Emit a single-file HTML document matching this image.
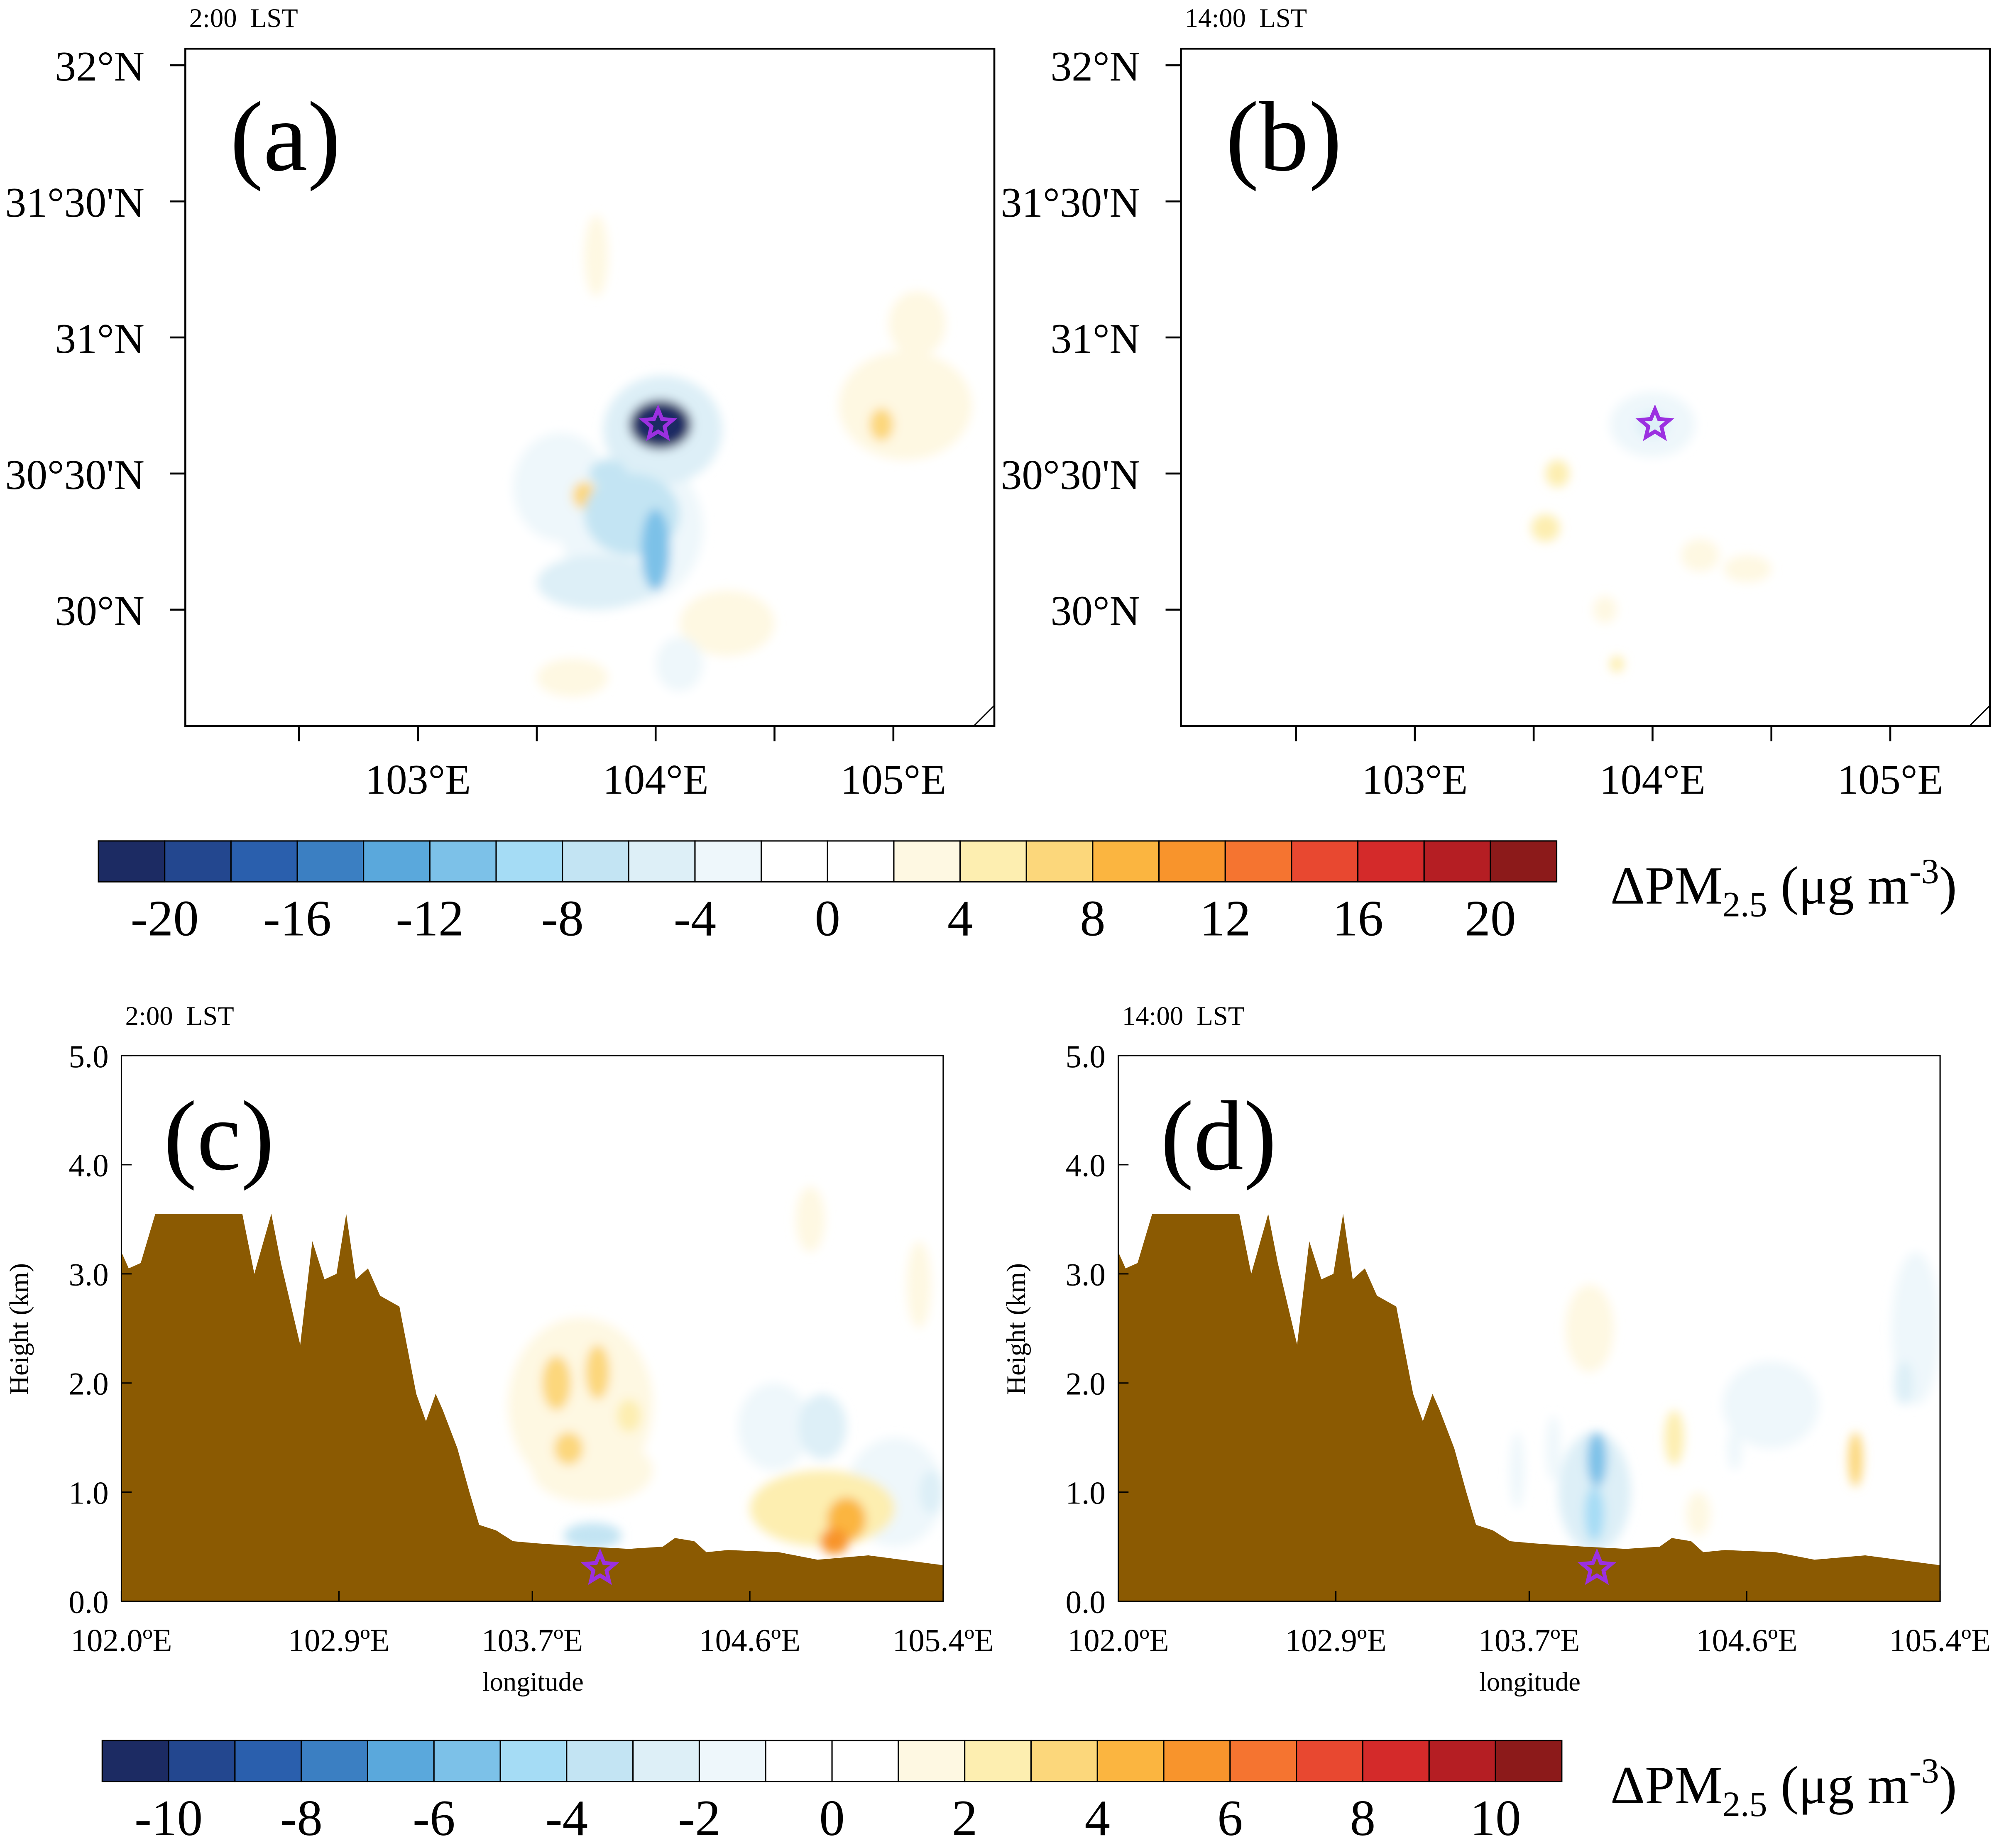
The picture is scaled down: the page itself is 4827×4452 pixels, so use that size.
<!DOCTYPE html>
<html><head><meta charset="utf-8"><style>
html,body{margin:0;padding:0;background:#fff}
svg{display:block}
text{font-family:"Liberation Serif",serif;fill:#000;white-space:pre}
</style></head><body>
<svg id="fig" width="4827" height="4452" viewBox="0 0 1568 1446" xmlns="http://www.w3.org/2000/svg">
<defs>
<filter id="blur" x="-50%" y="-50%" width="200%" height="200%"><feGaussianBlur stdDeviation="4"/></filter>
<clipPath id="clipA"><rect x="145" y="38" width="633" height="530"/></clipPath>
<clipPath id="clipB"><rect x="924" y="38" width="633" height="530"/></clipPath>
<clipPath id="clipC"><rect x="95" y="826" width="643" height="427"/></clipPath>
<clipPath id="clipD"><rect x="875" y="826" width="643" height="427"/></clipPath>
</defs>
<g id="root"></g>
</svg>
<script>
const colors=["#1c2b63","#23478f","#2a5fad","#3b7fc2","#5aa8dc","#7cc1e8","#a5dcf5","#c3e4f3","#ddeff7","#eef7fb","#ffffff","#ffffff","#fef8e2","#fdeeb0","#fcd77b","#fbb540","#f8942c","#f57430","#e84830","#d42a2a","#b51e23","#8c1a1a"];
const cbarTopTicks=[-20,-16,-12,-8,-4,0,4,8,12,16,20];
const cbarBotTicks=[-10,-8,-6,-4,-2,0,2,4,6,8,10];
const latTicks=[32,31.5,31,30.5,30];
const latLabels=["32°N","31°30'N","31°N","30°30'N","30°N"];
const lonTicks=[103,104,105];
const lonMinor=[102.5,103.5,104.5];
const hTicks=[0,1,2,3,4,5];
const secLonTicks=[102.0,102.9,103.7,104.6,105.4];
// blobs: lon, lat, radius-lon(deg), radius-lat(deg), value (ug m-3)
const blobsA_lon=[104.03,104.02,104.0,103.9,103.9,103.75,103.6,103.5,103.8,104.05,103.7,103.65,104.5,105.05,104.95,104.6,103.75,104.3,104.1,103.85,105.2,105.1];
const blobsA_lat=[30.66,30.68,30.22,30.3,30.35,30.1,30.45,30.25,30.5,29.85,30.42,29.75,30.7,30.75,30.68,30.15,31.3,29.95,29.8,30.35,30.3,31.05];
const blobsA_rx=[0.25,0.13,0.06,0.3,0.2,0.25,0.2,0.2,0.08,0.18,0.05,0.15,0.1,0.28,0.05,0.25,0.05,0.2,0.1,0.04,0.2,0.12];
const blobsA_ry=[0.2,0.09,0.15,0.28,0.15,0.1,0.2,0.15,0.05,0.22,0.05,0.07,0.1,0.2,0.06,0.07,0.15,0.12,0.1,0.05,0.12,0.12];
const blobsA_v=[-6,-22,-12,-3,-7,-5,-3,-2,-8,-2,6,3,-2,3,7,-2,2,2,-3,5,-1.5,3];
const blobsB_lon=[104.0,104.0,103.6,103.55,103.95,104.2,103.8,104.4,103.3,104.8,104.6,103.85];
const blobsB_lat=[30.68,30.68,30.5,30.3,30.55,30.2,30.0,30.15,30.45,29.9,29.8,29.8];
const blobsB_rx=[0.18,0.07,0.05,0.06,0.1,0.08,0.05,0.1,0.1,0.2,0.15,0.03];
const blobsB_ry=[0.12,0.05,0.05,0.05,0.1,0.06,0.05,0.05,0.1,0.08,0.08,0.03];
const blobsB_v=[-3,-5,5,5,-2,3,3,3,-2,-2,-2,4];
// section blobs: lon, height(km), rlon(deg), rh(km), value
const blobsC_lon=[103.9,103.8,103.97,103.85,104.1,103.95,103.95,104.9,105.0,104.95,105.2,104.7,104.9,105.35,103.45,103.6,104.85,105.3,104.2,103.65];
const blobsC_h=[1.8,2.0,2.1,1.4,1.7,1.2,0.6,0.85,0.75,0.55,1.0,1.6,1.6,1.0,2.0,1.0,3.5,2.9,1.3,0.8];
const blobsC_rlon=[0.3,0.06,0.05,0.06,0.05,0.25,0.12,0.3,0.08,0.06,0.2,0.15,0.1,0.05,0.08,0.06,0.06,0.05,0.2,0.08];
const blobsC_rh=[0.8,0.25,0.25,0.15,0.15,0.3,0.12,0.35,0.2,0.12,0.5,0.4,0.3,0.2,0.3,0.3,0.3,0.4,0.5,0.3];
const blobsC_v=[1.5,3.5,3.5,3.5,2.5,1,-3.5,2,4,5,-1.5,-1.5,-2.5,-2.5,-1,-1,1,1.5,-0.8,-0.8];
const blobsD_lon=[103.97,103.98,103.97,103.65,103.8,104.3,105.05,104.7,105.3,104.4,105.25,103.95,104.55];
const blobsD_h=[1.0,1.3,0.8,1.2,1.4,1.5,1.3,1.8,2.5,0.8,2.0,2.5,1.4];
const blobsD_rlon=[0.15,0.04,0.04,0.03,0.03,0.04,0.03,0.2,0.1,0.05,0.04,0.1,0.03];
const blobsD_rh=[0.55,0.25,0.25,0.35,0.3,0.25,0.25,0.4,0.7,0.2,0.2,0.4,0.2];
const blobsD_v=[-3,-6,-5,-2,-2,2.5,3,-1.5,-1.2,1.5,-2.5,1,-2];
const terrainLon=[102.0,102.03,102.08,102.14,102.5,102.55,102.62,102.66,102.74,102.79,102.84,102.89,102.93,102.97,103.02,103.07,103.15,103.22,103.26,103.3,103.33,103.39,103.44,103.48,103.55,103.62,103.72,103.93,104.1,104.24,104.29,104.37,104.42,104.51,104.72,104.88,105.09,105.4];
const terrainH=[3.2,3.05,3.1,3.55,3.55,3.0,3.55,3.1,2.35,3.3,2.95,3.0,3.55,2.95,3.05,2.8,2.7,1.9,1.65,1.9,1.75,1.4,1.0,0.7,0.65,0.55,0.53,0.5,0.48,0.5,0.58,0.55,0.45,0.47,0.45,0.38,0.42,0.33];

const root=document.getElementById('root');
const NS="http://www.w3.org/2000/svg";
function el(tag,attrs,parent,txt){const e=document.createElementNS(NS,tag);for(const k in attrs)e.setAttribute(k,attrs[k]);if(txt!==undefined)e.textContent=txt;(parent||root).appendChild(e);return e;}
function colorTop(v){let i=Math.floor((v+22)/2);return colors[Math.max(0,Math.min(21,i))];}
function colorBot(v){let i=Math.floor(v+11);return colors[Math.max(0,Math.min(21,i))];}

function mapPanel(x0,lon103x,clip,title,letter,lons,lats,rxs,rys,vs,name){
  const xOf=lon=>lon103x+(lon-103)*186;
  const yOf=lat=>51+(32-lat)*213;
  const g=el('g',{'clip-path':'url(#'+clip+')'});
  
  
  const fg=el('g',{filter:'url(#blur)'},g);
  const idx=vs.map((v,i)=>i).sort((a,b)=>Math.abs(vs[a])-Math.abs(vs[b]));
  idx.forEach(i=>{
    const c=el('ellipse',{cx:xOf(lons[i]),cy:yOf(lats[i]),rx:rxs[i]*186,ry:rys[i]*213,fill:colorTop(vs[i])},fg);
    
    
  });
  const star=el('polygon',{points:starPts(xOf(104.01),yOf(30.68),12,5),fill:'none',stroke:'#9b30e0','stroke-width':3});
  
  
  const fr=el('rect',{x:x0,y:38,width:633,height:530,fill:'none',stroke:'#000','stroke-width':1.5});
  
  
  el('line',{x1:x0+633-16,y1:568,x2:x0+633,y2:552,stroke:'#000','stroke-width':1});
  latTicks.forEach((lat,i)=>{
    el('line',{x1:x0-12,y1:yOf(lat),x2:x0,y2:yOf(lat),stroke:'#000','stroke-width':1.5});
    const t=el('text',{x:x0-32,y:yOf(lat)+12,'text-anchor':'end','font-size':33},undefined,latLabels[i]);
    
    
  });
  lonTicks.concat(lonMinor).forEach(lon=>el('line',{x1:xOf(lon),y1:568,x2:xOf(lon),y2:580,stroke:'#000','stroke-width':1.5}));
  lonTicks.forEach(lon=>{
    const t=el('text',{x:xOf(lon),y:621,'text-anchor':'middle','font-size':33},undefined,lon+'°E');
    
    
  });
  const tt=el('text',{x:x0+3,y:21,'font-size':21},undefined,title);
  
  
  const lt=el('text',{x:x0+35,y:133,'font-size':78},undefined,letter);
  
  
}
function starPts(cx,cy,R,n){let p=[];for(let i=0;i<10;i++){const r=i%2?R*0.45:R;const a=-Math.PI/2+i*Math.PI/5;p.push((cx+r*Math.cos(a)).toFixed(1)+','+(cy+r*Math.sin(a)).toFixed(1));}return p.join(' ');}

function secPanel(x0,clip,title,letter,lons,hs,rl,rh,vs,name){
  const xOf=lon=>x0+(lon-102)/3.4*643;
  const yOf=h=>1253-h*85.4;
  const g=el('g',{'clip-path':'url(#'+clip+')'});
  
  
  const fg=el('g',{filter:'url(#blur)'},g);
  const idx=vs.map((v,i)=>i).sort((a,b)=>Math.abs(vs[a])-Math.abs(vs[b]));
  idx.forEach(i=>{
    const c=el('ellipse',{cx:xOf(lons[i]),cy:yOf(hs[i]),rx:rl[i]/3.4*643,ry:rh[i]*85.4,fill:colorBot(vs[i])},fg);
    
    
  });
  let pts=terrainLon.map((l,i)=>xOf(l).toFixed(1)+','+yOf(terrainH[i]).toFixed(1));
  pts.push(xOf(105.4)+','+yOf(0),xOf(102)+','+yOf(0));
  const tr=el('polygon',{points:pts.join(' '),fill:'#8b5a02'},g);
  
  
  const star=el('polygon',{points:starPts(xOf(103.98),yOf(0.3),12,5),fill:'none',stroke:'#9b30e0','stroke-width':3});
  
  
  const fr=el('rect',{x:x0,y:826,width:643,height:427,fill:'none',stroke:'#000','stroke-width':1});
  
  
  hTicks.forEach(h=>{
    el('line',{x1:x0,y1:yOf(h),x2:x0+8,y2:yOf(h),stroke:'#000'});
    const t=el('text',{x:x0-10,y:yOf(h)+9,'text-anchor':'end','font-size':25},undefined,h.toFixed(1));
    
    
  });
  secLonTicks.forEach(l=>{
    el('line',{x1:xOf(l),y1:1253,x2:xOf(l),y2:1245,stroke:'#000'});
    const t=el('text',{x:xOf(l),y:1292,'text-anchor':'middle','font-size':25},undefined,l.toFixed(1)+'ºE');
    
    
  });
  const xl=el('text',{x:x0+322,y:1323,'text-anchor':'middle','font-size':21},undefined,'longitude');
  
  
  const yl=el('text',{x:0,y:0,transform:'translate('+(x0-73)+',1040) rotate(-90)','text-anchor':'middle','font-size':21},undefined,'Height (km)');
  
  
  const tt=el('text',{x:x0+3,y:802,'font-size':21},undefined,title);
  
  
  const lt=el('text',{x:x0+33,y:915,'font-size':78},undefined,letter);
  
  
}

function colorbar(x0,x1,y,ticks,lo,step,name){
  const w=(x1-x0)/22;
  colors.forEach((c,i)=>{
    const r=el('rect',{x:x0+i*w,y:y,width:w,height:32,fill:c,stroke:'#000','stroke-width':1});
    
    
  });
  ticks.forEach(v=>{
    const t=el('text',{x:x0+(v-lo)/step*w,y:y+74,'text-anchor':'middle','font-size':40},undefined,v);
    
    
  });
  const lab=el('text',{x:1260,y:y+49,'font-size':42});
  
  
  lab.innerHTML='ΔPM<tspan font-size="28" dy="10">2.5</tspan><tspan dy="-10"> (μg m</tspan><tspan font-size="28" dy="-16">-3</tspan><tspan dy="16">)</tspan>';
}

mapPanel(145,327,'clipA','2:00  LST','(a)',blobsA_lon,blobsA_lat,blobsA_rx,blobsA_ry,blobsA_v,'panel-a');
mapPanel(924,1107,'clipB','14:00  LST','(b)',blobsB_lon,blobsB_lat,blobsB_rx,blobsB_ry,blobsB_v,'panel-b');
colorbar(77,1218,658,cbarTopTicks,-22,2,'colorbar-top');
secPanel(95,'clipC','2:00  LST','(c)',blobsC_lon,blobsC_h,blobsC_rlon,blobsC_rh,blobsC_v,'panel-c');
secPanel(875,'clipD','14:00  LST','(d)',blobsD_lon,blobsD_h,blobsD_rlon,blobsD_rh,blobsD_v,'panel-d');
colorbar(80,1222,1362,cbarBotTicks,-11,1,'colorbar-bottom');
</script>
</body></html>
